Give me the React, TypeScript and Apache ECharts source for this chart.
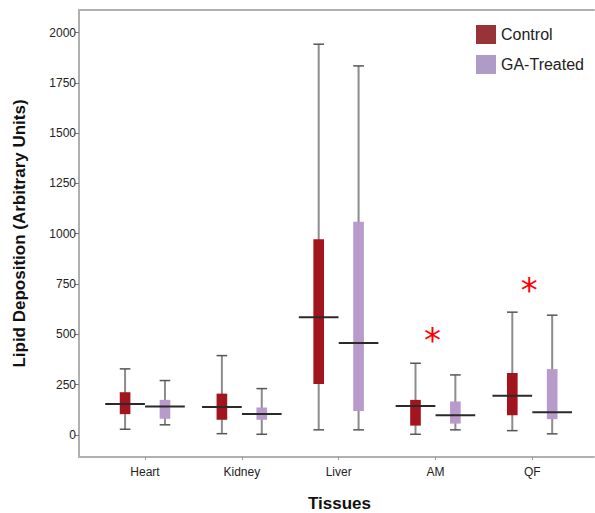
import React, { useEffect, useRef } from "react";
import * as echarts from "echarts";

const categories = ["Heart", "Kidney", "Liver", "AM", "QF"];
const controlMin = [28, 6, 25, 3, 21];
const controlQ1 = [103, 75, 253, 46, 98];
const controlMedian = [153, 139, 585, 144, 194];
const controlQ3 = [212, 205, 973, 174, 307];
const controlMax = [328, 394, 1942, 356, 610];
const gaMin = [50, 3, 25, 25, 5];
const gaQ1 = [80, 75, 119, 56, 78];
const gaMedian = [141, 104, 457, 98, 113];
const gaQ3 = [174, 136, 1060, 166, 327];
const gaMax = [270, 230, 1834, 298, 595];
const starCategories = [3, 4];
const starValues = [492, 741];
const yTicks = [0, 250, 500, 750, 1000, 1250, 1500, 1750, 2000];

const FONT = "'Liberation Sans', Arial, Helvetica, sans-serif";

function makeBoxRender(offsetFrac: number, fill: string) {
  return (params: any, api: any) => {
    const unit = api.size([1, 0])[0];
    const cx = api.coord([api.value(0), 0])[0] + offsetFrac * unit;
    const yMin = api.coord([0, api.value(1)])[1];
    const yQ1 = api.coord([0, api.value(2)])[1];
    const yMed = api.coord([0, api.value(3)])[1];
    const yQ3 = api.coord([0, api.value(4)])[1];
    const yMax = api.coord([0, api.value(5)])[1];
    const boxW = 0.11 * unit;
    const capW = 0.11 * unit;
    const medW = 0.41 * unit;
    return {
      type: "group",
      children: [
        {
          type: "line",
          shape: { x1: cx, y1: yMin, x2: cx, y2: yMax },
          style: { stroke: "#8c8c8c", lineWidth: 2 },
        },
        {
          type: "line",
          shape: { x1: cx - capW / 2, y1: yMax, x2: cx + capW / 2, y2: yMax },
          style: { stroke: "#555", lineWidth: 1.5 },
        },
        {
          type: "line",
          shape: { x1: cx - capW / 2, y1: yMin, x2: cx + capW / 2, y2: yMin },
          style: { stroke: "#555", lineWidth: 1.5 },
        },
        {
          type: "rect",
          shape: { x: cx - boxW / 2, y: yQ3, width: boxW, height: yQ1 - yQ3 },
          style: { fill },
        },
        {
          type: "line",
          shape: { x1: cx - medW / 2, y1: yMed, x2: cx + medW / 2, y2: yMed },
          style: { stroke: "#2a2a2a", lineWidth: 2 },
        },
      ],
    };
  };
}

export default function App() {
  const ref = useRef<HTMLDivElement>(null);
  useEffect(() => {
    if (!ref.current) return;
    const chart = echarts.init(ref.current, undefined, { renderer: "svg" });
    const controlData = categories.map((_, i) => [
      i,
      controlMin[i],
      controlQ1[i],
      controlMedian[i],
      controlQ3[i],
      controlMax[i],
    ]);
    const gaData = categories.map((_, i) => [
      i,
      gaMin[i],
      gaQ1[i],
      gaMedian[i],
      gaQ3[i],
      gaMax[i],
    ]);
    const starData = starCategories.map((c, i) => [c, starValues[i]]);
    const xMin = -0.682;
    const xMax = 4.638;
    chart.setOption({
      animation: false,
      backgroundColor: "#fff",
      textStyle: { fontFamily: FONT },
      grid: { left: 79, right: 1, top: 10, bottom: 56, outerBoundsMode: "none", containLabel: false },
      legend: {
        orient: "vertical",
        left: 471,
        top: 20,
        itemWidth: 20,
        itemHeight: 19,
        itemGap: 11,
        icon: "rect",
        textStyle: { fontSize: 16, color: "#222", fontFamily: FONT },
        data: ["Control", "GA-Treated"],
      },
      xAxis: [
        {
          type: "value",
          min: xMin,
          max: xMax,
          name: "Tissues",
          nameLocation: "middle",
          nameGap: 38,
          nameTextStyle: { fontSize: 17, fontWeight: "bold", color: "#111", fontFamily: FONT, padding: [0, 0, 0, 6] },
          splitLine: { show: false },
          axisLine: { show: true, onZero: false, lineStyle: { color: "#b0b0b0", width: 2 } },
          axisTick: {
            show: true,
            length: 3,
            customValues: [0, 1, 2, 3, 4],
            lineStyle: { color: "#999", width: 1 },
          },
          axisLabel: {
            customValues: [0, 1, 2, 3, 4],
            formatter: (v: number) => categories[Math.round(v)] ?? "",
            fontSize: 12,
            color: "#222",
            margin: 9,
            fontFamily: FONT,
          },
        },
        {
          type: "value",
          position: "top",
          min: xMin,
          max: xMax,
          splitLine: { show: false },
          axisLine: { show: true, onZero: false, lineStyle: { color: "#b0b0b0", width: 2 } },
          axisTick: { show: false },
          axisLabel: { show: false },
        },
      ],
      yAxis: {
        type: "value",
        min: -110,
        max: 2112,
        name: "Lipid Deposition (Arbitrary Units)",
        nameLocation: "middle",
        nameGap: 51,
        nameTextStyle: { fontSize: 17, fontWeight: "bold", color: "#111", fontFamily: FONT },
        splitLine: { show: false },
        axisLine: { show: true, onZero: false, lineStyle: { color: "#b0b0b0", width: 2 } },
        axisTick: {
          show: true,
          length: 4,
          customValues: yTicks,
          lineStyle: { color: "#777", width: 1 },
        },
        axisLabel: {
          customValues: yTicks,
          formatter: (v: number) => String(v),
          fontSize: 12,
          color: "#222",
          margin: 3,
          fontFamily: FONT,
        },
      },
      series: [
        {
          name: "Control",
          type: "custom",
          itemStyle: { color: "#983437" },
          encode: { x: 0, y: [1, 2, 3, 4, 5] },
          renderItem: makeBoxRender(-0.206, "#a3151e"),
          data: controlData,
        },
        {
          name: "GA-Treated",
          type: "custom",
          itemStyle: { color: "#ae9bc6" },
          encode: { x: 0, y: [1, 2, 3, 4, 5] },
          renderItem: makeBoxRender(0.206, "#b89bcb"),
          data: gaData,
        },
        {
          name: "stars",
          type: "custom",
          encode: { x: 0, y: 1 },
          renderItem: (params: any, api: any) => {
            const p = api.coord([api.value(0) - 0.03, api.value(1)]);
            return {
              type: "text",
              x: p[0],
              y: p[1] + 4,
              style: {
                text: "*",
                fill: "#ff0000",
                fontSize: 34,
                fontFamily: "'DejaVu Sans', sans-serif",
                align: "center",
                verticalAlign: "middle",
              },
            };
          },
          data: starData,
        },
      ],
    });
    return () => chart.dispose();
  }, []);
  return (
    <div
      ref={ref}
      style={{ position: "fixed", left: 0, top: 0, width: 595, height: 513 }}
    />
  );
}
